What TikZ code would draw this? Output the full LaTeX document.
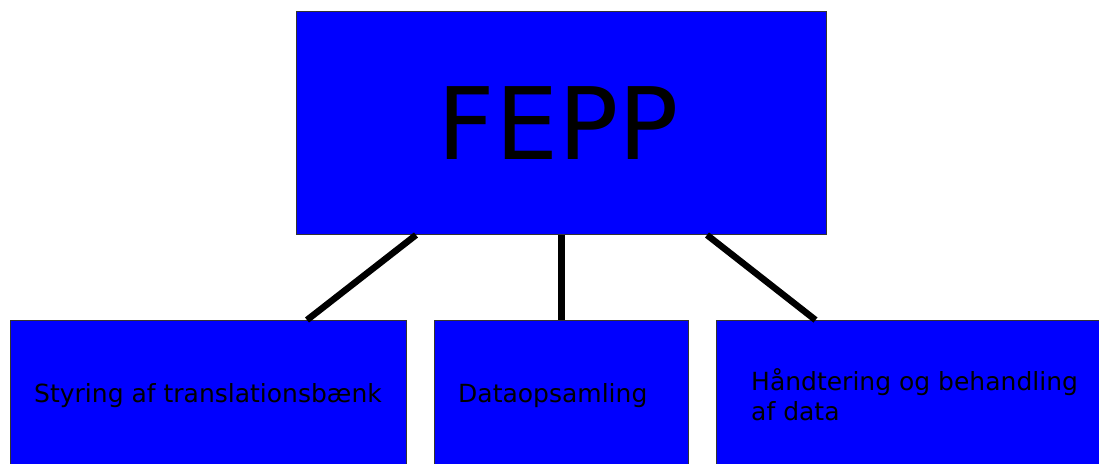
\documentclass[tikz,border=0pt]{standalone}
\usepackage{fontspec}
\setmainfont{DejaVu Sans}
\begin{document}
\begin{tikzpicture}[x=1pt,y=-1pt,
  box/.style={draw=black!80, line width=1pt, fill=blue, inner sep=0pt, anchor=north west},
  label/.style={anchor=base west, inner sep=0pt, font=\fontsize{25}{30}\selectfont, align=left},
  link/.style={line width=6.5pt, black}]
\useasboundingbox (0,0) rectangle (1099,463);
\clip (0,0) rectangle (1099,463);

% top box
\node[box, minimum width=530pt, minimum height=223pt] (fepp) at (296,11) {};
\node[inner sep=0pt, font=\fontsize{100}{100}\selectfont] (title)
  at ([xshift=-3pt]fepp.center) {FEPP};

% lower boxes
\node[box, minimum width=396pt, minimum height=150pt] (styr) at (10,320) {};
\node[box, minimum width=254pt, minimum height=150pt] (data) at (434,320) {};
\node[box, minimum width=386pt, minimum height=150pt] (hand) at (716,320) {};

\node[label] (styrtxt) at (34,402) {Styring af translationsbænk};
\node[label] (datatxt) at (458,402) {Dataopsamling};
\node[label] (handtxt) at (751,420) {Håndtering og behandling\\af data};

% connectors
\draw[link] ([xshift=-145.5pt]fepp.south) -- ([xshift=98.5pt]styr.north);
\draw[link] (fepp.south) -- (data.north);
\draw[link] ([xshift=145.5pt]fepp.south) -- ([xshift=-94pt]hand.north);
\end{tikzpicture}
\end{document}
